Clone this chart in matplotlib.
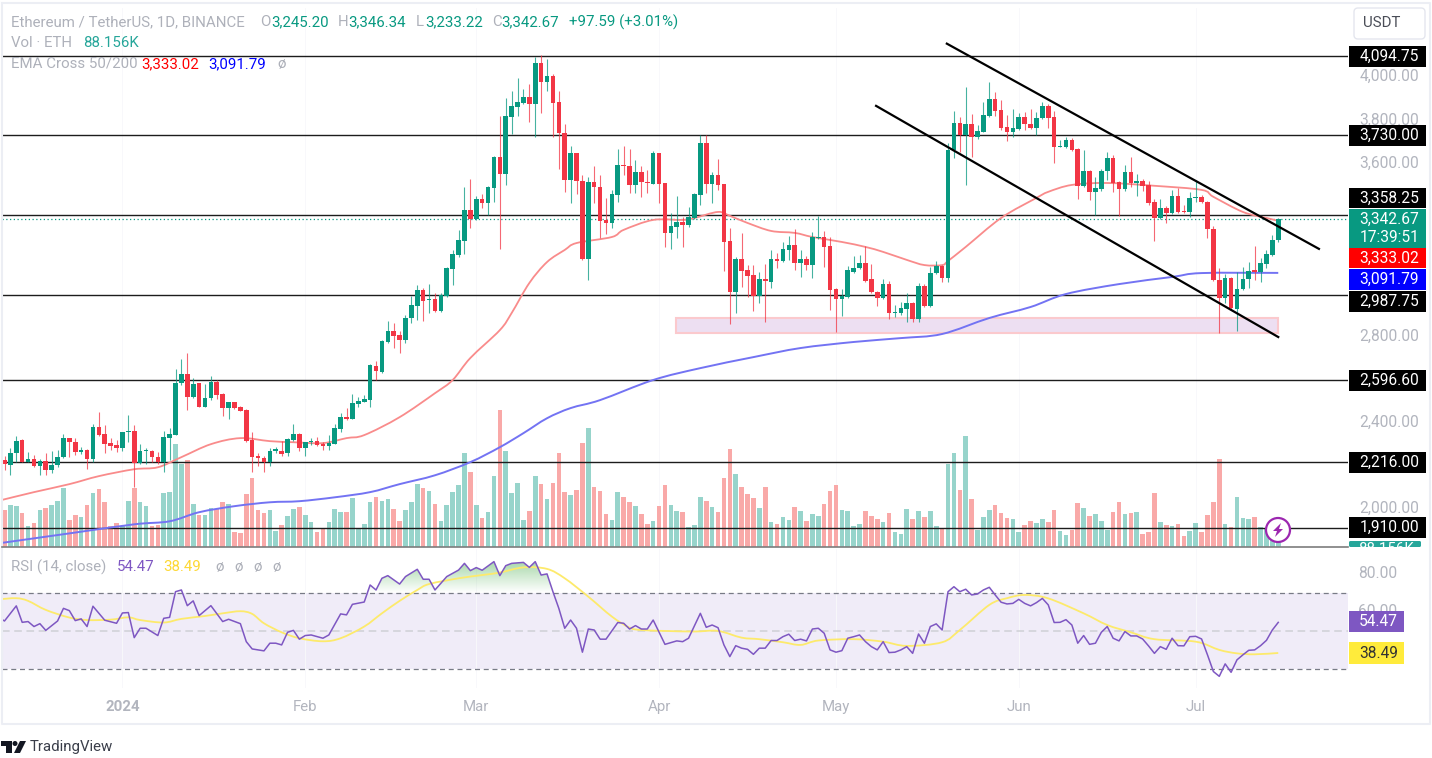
"""ETH/USDT daily chart with EMA cross, volume and RSI panes"""

import numpy as np
import matplotlib
matplotlib.use('Agg')
import matplotlib.pyplot as plt
from matplotlib.patches import Rectangle, Circle, Polygon, FancyBboxPatch, PathPatch
from matplotlib.path import Path

plt.rcParams['font.family'] = ['Roboto', 'DejaVu Sans']

# candles, one per day from 12 Dec 2023
opens = [2216,2193,2250,2309,2207,2221,2188,2211,2170,2193,
         2230,2318,2299,2253,2262,2221,2369,2336,2295,2285,
         2271,2346,2350,2202,2258,2258,2230,2207,2318,2332,
         2573,2614,2508,2573,2461,2503,2577,2522,2457,2485,
         2461,2448,2309,2234,2225,2207,2258,2258,2248,2309,
         2336,2271,2299,2304,2290,2281,2290,2360,2415,2406,
         2475,2485,2494,2651,2624,2763,2814,2795,2772,2874,
         2929,3004,2959,2962,2906,2976,3101,3166,3231,3374,
         3333,3425,3407,3476,3620,3541,3805,3852,3870,3898,
         3866,4056,3968,3995,3875,3731,3513,3638,3509,3147,
         3504,3481,3328,3314,3444,3583,3578,3490,3550,3504,
         3495,3638,3499,3268,3296,3319,3305,3337,3444,3685,
         3495,3537,3495,3231,2994,3147,3096,3073,2976,3055,
         3041,3147,3138,3189,3212,3129,3147,3119,3245,3249,
         3207,3008,2962,2971,3087,3106,3129,3055,2994,2967,
         3031,2897,2897,2916,2943,2869,3022,2929,3082,3115,
         3059,3652,3778,3722,3773,3713,3736,3810,3889,3838,
         3759,3736,3750,3805,3773,3754,3801,3856,3805,3666,
         3666,3699,3657,3486,3555,3458,3472,3555,3615,3504,
         3472,3550,3499,3509,3490,3411,3337,3384,3360,3439,
         3370,3365,3430,3435,3411,3286,3050,2967,3059,2916,
         3008,3055,3096,3087,3124,3166,3245.20]
highs = [2234,2271,2327,2313,2253,2239,2221,2248,2258,2262,
         2336,2318,2318,2276,2267,2383,2438,2378,2318,2309,
         2346,2424,2378,2290,2271,2262,2253,2350,2364,2638,
         2684,2712,2596,2573,2568,2605,2587,2526,2485,2485,
         2466,2452,2346,2248,2234,2271,2276,2304,2318,2383,
         2341,2299,2318,2322,2299,2332,2383,2434,2457,2522,
         2508,2517,2661,2675,2772,2860,2851,2814,2888,2976,
         3027,3013,3031,2990,2990,3110,3189,3282,3481,3518,
         3439,3448,3486,3625,3810,3893,3926,3986,3935,3958,
         4083,4093,4074,4005,3926,3773,3671,3638,3537,3527,
         3578,3537,3430,3467,3657,3671,3657,3606,3578,3560,
         3648,3638,3499,3360,3439,3342,3388,3453,3722,3722,
         3550,3611,3495,3291,3157,3268,3119,3119,3087,3124,
         3189,3175,3226,3254,3286,3189,3161,3272,3347,3277,
         3249,3013,3008,3115,3161,3166,3207,3124,2999,3055,
         3045,2934,2948,2990,2948,3036,3031,3110,3138,3119,
         3685,3833,3805,3944,3819,3768,3875,3967,3921,3884,
         3815,3842,3824,3828,3842,3828,3875,3866,3833,3699,
         3713,3708,3662,3652,3560,3527,3564,3643,3629,3509,
         3583,3620,3541,3518,3509,3425,3425,3393,3467,3476,
         3397,3458,3513,3444,3416,3300,3106,3078,3064,3087,
         3110,3133,3207,3152,3189,3258,3346.34]
lows = [2170,2146,2207,2207,2207,2183,2146,2146,2156,2183,
        2225,2230,2239,2244,2174,2207,2327,2248,2262,2253,
        2258,2299,2091,2197,2197,2207,2197,2160,2216,2332,
        2563,2448,2503,2461,2461,2494,2498,2420,2406,2452,
        2443,2299,2160,2188,2160,2188,2248,2234,2234,2304,
        2258,2234,2285,2281,2262,2262,2290,2346,2401,2406,
        2461,2485,2461,2587,2619,2758,2735,2712,2758,2851,
        2865,2860,2897,2902,2902,2971,3027,3157,3170,3291,
        3328,3384,3351,3411,3194,3490,3726,3810,3866,3782,
        3713,3824,3926,3713,3564,3458,3407,3448,3143,3050,
        3407,3245,3263,3291,3411,3537,3453,3453,3435,3453,
        3495,3407,3203,3194,3245,3203,3296,3333,3398,3453,
        3407,3467,3092,2846,2897,3018,2971,2906,2943,2855,
        3013,3106,3133,3143,3096,3064,3096,3059,3240,3110,
        2911,2809,2883,2967,3082,3101,3041,2990,2929,2962,
        2869,2878,2888,2855,2855,2855,2925,2925,3078,3041,
        3041,3615,3643,3490,3620,3703,3736,3805,3810,3745,
        3694,3713,3745,3745,3750,3722,3796,3754,3592,3666,
        3662,3648,3425,3481,3421,3351,3462,3513,3458,3347,
        3462,3481,3439,3462,3397,3231,3333,3314,3356,3360,
        3360,3342,3411,3407,3245,3045,2804,2943,2916,2814,
        3004,3013,3050,3041,3106,3161,3233.22]
closes = [2197,2250,2305,2207,2221,2188,2213,2170,2193,2230,
          2318,2299,2253,2262,2221,2369,2332,2290,2281,2271,
          2346,2350,2202,2258,2262,2230,2207,2322,2336,2573,
          2614,2508,2568,2461,2503,2577,2517,2457,2485,2457,
          2443,2304,2230,2225,2207,2258,2267,2244,2313,2336,
          2271,2299,2304,2285,2281,2295,2364,2415,2406,2480,
          2489,2498,2656,2628,2767,2814,2790,2772,2874,2934,
          3004,2953,2962,2906,2980,3106,3170,3235,3374,3333,
          3425,3407,3481,3620,3541,3810,3856,3875,3898,3866,
          4056,3968,3995,3870,3731,3513,3638,3509,3147,3504,
          3481,3323,3314,3448,3583,3578,3490,3550,3504,3499,
          3638,3495,3268,3300,3319,3305,3342,3448,3685,3495,
          3537,3490,3226,2994,3147,3092,3069,2976,3055,3045,
          3147,3138,3194,3212,3129,3147,3119,3249,3249,3203,
          3004,2962,2976,3096,3106,3129,3045,2994,2967,3031,
          2897,2902,2920,2943,2869,3022,2929,3082,3115,3059,
          3652,3778,3722,3773,3713,3740,3815,3889,3833,3754,
          3736,3754,3805,3773,3754,3801,3856,3801,3666,3671,
          3699,3652,3486,3555,3458,3476,3555,3615,3499,3472,
          3550,3499,3509,3486,3407,3337,3384,3360,3439,3365,
          3365,3430,3435,3411,3286,3050,2967,3059,2920,3008,
          3055,3092,3087,3129,3170,3235,3342.67]

# volume in thousands of ETH
volumes = [592,672,656,538,336,378,592,624,672,736,
           938,432,512,474,672,864,928,725,336,378,
           336,736,938,720,656,336,352,858,880,1642,
           1322,1391,688,512,512,618,602,720,688,235,
           219,848,1109,592,538,592,251,352,496,608,
           640,512,400,235,304,400,608,560,560,784,
           304,368,720,800,736,768,608,416,592,720,
           1008,944,896,688,416,672,880,992,1498,1205,
           672,464,560,1141,2191,1535,869,1029,432,576,
           1141,1007,768,1029,1498,879,831,911,1658,1897,
           959,895,528,432,879,800,720,656,528,368,
           416,656,991,672,576,560,314,352,800,736,
           640,560,1109,1562,1173,959,847,784,624,959,
           394,362,480,432,640,576,416,528,496,688,
           895,991,592,576,336,368,576,496,448,400,
           544,240,208,608,448,576,480,576,336,288,
           1327,1498,911,1775,768,272,480,592,672,544,
           464,448,240,352,416,384,448,400,592,256,
           192,272,704,624,496,528,416,272,560,720,
           528,544,560,208,240,864,400,352,336,368,
           176,256,384,240,512,720,1407,368,320,800,
           464,448,480,325,300,112,88.156]

# moving averages at these candle numbers
ema50_days = [-1,5,11,16,22,26,30,35,40,45,49,54,58,61,67,73,76,79,84,86,89,92,95,97,
              103,105,110,115,117,121,123,126,130,134,137,142,146,149,153,156,159,160,
              163,169,175,177,181,187,195,203,205,210,214,216]
ema50 = [2028,2068,2105,2142,2174,2183,2230,2290,2318,2304,2299,2295,2318,2332,2415,2526,2587,2689,
         2818,2897,3036,3133,3189,3221,3249,3282,3328,3328,3337,3365,3347,3314,3277,3268,3249,3226,
         3203,3180,3143,3119,3119,3138,3203,3337,3430,3458,3490,3499,3486,3467,3435,3365,3337,3333.02]
ema200_days = [-1,11,22,28,33,39,45,50,56,62,67,73,79,84,88,92,96,101,110,118,127,135,144,
               152,159,167,174,180,189,198,203,216]
ema200 = [1831,1877,1919,1933,1975,2003,2021,2026,2044,2068,2105,2146,2207,2276,2341,2410,2457,2494,
          2587,2642,2693,2735,2763,2781,2800,2874,2925,2985,3031,3064,3082,3091.79]

rsi_days = [-1,0,2,3,4,5,6,7,9,10,11,12,13,14,15,17,19,20,21,22,23,24,26,27,28,29,30,31,32,33,35,37,38,
            40,41,42,44,45,46,47,48,49,50,51,52,54,55,57,58,59,61,62,63,64,65,67,68,70,71,72,73,75,77,
            78,79,80,81,83,84,85,86,88,89,90,91,92,93,94,95,96,97,98,99,100,101,102,104,105,106,107,
            108,109,110,112,114,115,116,118,119,120,
            121,122,123,124,125,126,127,128,129,130,131,132,133,134,135,136,137,138,139,140,141,142,143,
            144,145,146,147,148,149,150,151,152,153,154,155,156,157,158,159,160,161,162,163,164,165,166,
            167,168,169,170,171,172,173,174,175,176,177,178,179,180,181,182,183,184,185,186,187,188,189,
            190,191,192,193,194,195,196,197,198,199,200,201,202,203,204,205,206,207,208,209,210,211,212,
            213,214,215,216]
rsi = [57,55.2,63.1,54.5,54.9,52.3,53.8,50.3,55.2,61.8,60.6,55.4,56.3,52.3,62.9,55.6,54,59.4,59.6,46.5,
       51.4,51.4,47.6,56.6,57.1,70.5,71.4,63.2,65.7,58,63.2,54.9,56.1,53.8,44.4,40.6,39.6,43.6,43.6,42.7,
       49.3,50.3,45.7,47.6,47.9,46.2,47.9,58.9,58.4,63.9,65.1,74,71.4,77.5,78.9,74.5,78.4,82.2,77,77,71.4,
       78.4,81.8,85.3,81.5,83.1,81.7,86.2,78.9,84.1,85.3,85.8,83.2,86.2,79.2,79.8,70.5,61.8,51.4,55.7,51.4,
       38.9,51,50.5,45.7,45.7,54.4,54,51,52.8,51,51,55.7,43,44.8,44.4,46.2,59.2,51.9,53.1,
       51.7,42.7,36.6,42.3,41,40.4,37.8,41,41,45,45,47,48.3,45,45.7,44.8,51,51.4,48.8,40.1,38.9,39.7,46.2,
       47,47.9,44.4,41.8,40.1,44.4,38.7,38.9,40.1,41.8,38.3,48.4,43.6,52.3,53.7,50.5,70.5,73.1,70.5,71.8,
       68.8,69.3,71.4,72.8,68.8,65,64.1,64.4,66.5,64.4,63.1,64.8,67,63.6,54.4,54.5,55.9,53.1,43.6,47.6,43,
       43.6,49.3,52.3,46.2,44.8,49.7,47.4,47.4,45.8,42.2,38.3,41.8,40.4,46.2,42.3,42.2,47,47.2,45.8,37.5,
       28.8,26.3,32.8,28.4,34.9,37.5,39.9,40.1,42.3,45.1,50.5,54.47]
rsi_ma_days = [-1,2,4,7,11,14,18,21,23,27,30,34,37,40,42,44,47,50,54,57,61,64,67,70,72,77,81,84,88,92,95,
               99,103,106,108,112,117,121,125,128,132,135,138,144,149,153,159,162,167,170,173,177,183,
               187,191,195,202,206,209,212,216]
rsi_ma = [66.5,67.1,65.7,61,57,55.7,55.9,57.1,55.7,54.4,56.3,57.8,59.2,60.3,58.9,54,49.3,46.2,44.6,46.2,
          52.3,59.2,65.7,71.4,74.5,77.5,79.2,80.5,83.2,82.4,77.5,67.9,57.5,51.7,50.5,50,49.7,50,46.5,45.7,
          44.1,42.7,45,45.7,44.4,42.2,44.1,50.5,63.6,67.1,68.8,67,59.2,53.1,49.3,45.7,44.4,40.1,38.3,37.8,38.49]

# horizontal levels and the price scale
levels = [4094.75, 3730.00, 3358.25, 2987.75, 2596.60, 2216.00, 1910.00]
price_ticks = [4000, 3800, 3600, 2800, 2400, 2000]
rsi_ticks = [80, 60]
month_days = [20, 51, 80, 111, 141, 172, 202]
month_labels = ['2024', 'Feb', 'Mar', 'Apr', 'May', 'Jun', 'Jul']

# drawn objects: channel and demand zone
upper_channel_days, upper_channel = [159.8, 222.9], [4153, 3203]
lower_channel_days, lower_channel = [147.8, 216.0], [3865, 2795]
zone_days, zone_prices = [113.9, 216.0], [2813, 2883]

# my price readings came out about 9 low against the level lines, the last
# candle and the last EMA values are the printed ones so they stay as they are
READ_SHIFT = 9
for series in (opens, highs, lows, closes, ema50, ema200):
    series[:-1] = [v + READ_SHIFT for v in series[:-1]]

GREEN = '#089981'
RED = '#f23645'
VOL_GREEN = '#97d4cb'
VOL_RED = '#f9a9a8'
GREY = '#b2b5be'
W, H = 1432, 758


def pane(left, top, right, bottom, **kw):
    return plt.gcf().add_axes([left / W, 1 - bottom / H, (right - left) / W, (bottom - top) / H], **kw)


def xlim_days(x_px):
    return (x_px - 4.5) / 5.897


def smooth_line(axes, xs, ys, colour, lw, zorder):
    # Catmull-Rom curve through the read points, the chart lines have no corners
    pts = np.column_stack([xs, ys]).astype(float)
    verts = [pts[0]]
    codes = [Path.MOVETO]
    for i in range(len(pts) - 1):
        before = pts[max(i - 1, 0)]
        after = pts[min(i + 2, len(pts) - 1)]
        verts += [pts[i] + (pts[i + 1] - before) / 6, pts[i + 1] - (after - pts[i]) / 6, pts[i + 1]]
        codes += [Path.CURVE4] * 3
    axes.add_patch(PathPatch(Path(verts, codes), facecolor='none', edgecolor=colour, lw=lw, zorder=zorder))


fig = plt.figure(figsize=(W / 100, H / 100), dpi=100, facecolor='white')
days = np.arange(len(closes))
up = np.array(closes) >= np.array(opens)

# volume sits underneath the price pane, 16K per pixel
ax_vol = pane(2, 8, 1348, 547)
ax_vol.bar(days, volumes, width=0.78, color=[VOL_GREEN if u else VOL_RED for u in up])
ax_vol.set_xlim(xlim_days(2), xlim_days(1348))
ax_vol.set_ylim(0, 539 * 16)
ax_vol.axis('off')

# price pane
ax = pane(2, 8, 1348, 547, zorder=2)
ax.patch.set_alpha(0)
ax.set_xlim(xlim_days(2), xlim_days(1348))
ax.set_ylim(1823, 4318)
ax.axis('off')

for m in month_days:
    ax_vol.axvline(m, color='#f8f8fb', lw=0.7, zorder=0)

ax.add_patch(Rectangle((zone_days[0], zone_prices[0]), zone_days[1] - zone_days[0], zone_prices[1] - zone_prices[0],
                       facecolor='#eddff2', edgecolor='#fbc9cd', lw=1.5, zorder=1))
for lev in levels:
    ax.axhline(lev, color='#1c1c1c', lw=1.0, zorder=1.5)
ax.axhline(closes[-1], color=GREEN, lw=0.9, ls=(0, (1, 2)), zorder=1.6)

smooth_line(ax, ema50_days, ema50, '#f98b8b', 1.3, 2)
smooth_line(ax, ema200_days, ema200, '#7373f3', 1.4, 2)

# candles
for i in days:
    c = GREEN if up[i] else RED
    ax.plot([i, i], [lows[i], highs[i]], color=c, lw=0.8, alpha=0.75, zorder=3, solid_capstyle='butt')
    bottom = min(opens[i], closes[i])
    height = max(abs(closes[i] - opens[i]), 5)
    ax.add_patch(Rectangle((i - 0.39, bottom), 0.78, height, facecolor=c, edgecolor='none', zorder=3.1))

ax.plot(upper_channel_days, upper_channel, color='black', lw=1.6, zorder=4, clip_on=False)
ax.plot(lower_channel_days, lower_channel, color='black', lw=1.6, zorder=4, clip_on=False)

# RSI pane
ax_rsi = pane(2, 549, 1348, 688)
ax_rsi.axhspan(30, 70, color='#f0ecf8', lw=0, zorder=0)
for m in month_days:
    ax_rsi.axvline(m, color='#f8f8fb', lw=0.7, zorder=0.5)
ax_rsi.axhline(70, color='#787b86', lw=0.9, ls=(0, (4, 3)), zorder=1)
ax_rsi.axhline(30, color='#787b86', lw=0.9, ls=(0, (4, 3)), zorder=1)
ax_rsi.axhline(50, color='#cfd0d6', lw=1.1, ls=(0, (5, 3)), zorder=1)
ax_rsi.set_xlim(xlim_days(2), xlim_days(1348))
ax_rsi.set_ylim(20.2, 92.8)

# green glow where RSI runs above 70
over = ax_rsi.fill_between(rsi_days, rsi, 70, where=np.array(rsi) > 70, interpolate=True, color='none')
clip = PathPatch(Path.make_compound_path(*over.get_paths()), transform=ax_rsi.transData, fc='none', ec='none')
ax_rsi.add_patch(clip)
shade = np.zeros((64, 2, 4))
shade[..., :3] = matplotlib.colors.to_rgb('#4caf50')
shade[..., 3] = np.linspace(0.5, 0.0, 64)[:, None]
glow = ax_rsi.imshow(shade, extent=(0, 216, 70, 87), aspect='auto', zorder=0.8, interpolation='bilinear')
glow.set_clip_path(clip)
ax_rsi.set_xlim(xlim_days(2), xlim_days(1348))
ax_rsi.set_ylim(20.2, 92.8)

smooth_line(ax_rsi, rsi_ma_days, rsi_ma, '#fdea6b', 1.3, 2)
ax_rsi.plot(rsi_days, rsi, color='#7e57c2', lw=1.1, zorder=3)
ax_rsi.axis('off')

# overlay in picture pixels for the TradingView furniture
ov = fig.add_axes([0, 0, 1, 1], zorder=5)
ov.set_xlim(0, W)
ov.set_ylim(H, 0)
ov.axis('off')
ov.patch.set_alpha(0)


def y_of(axes, value):
    return H - axes.transData.transform((0, value))[1]


def x_of(day):
    return ax.transData.transform((day, 0))[0]


FS = 10.8
ov.plot([2, 1430, 1430, 2, 2], [3, 3, 724, 724, 3], color='#eceef4', lw=1.5, zorder=0)
ov.plot([2, 1348], [547, 547], color='#7d7d7d', lw=1.2, zorder=1)

# price scale ticks, boxes go over them
for t in price_ticks:
    ov.text(1419, y_of(ax, t), f'{t:,.2f}', color=GREY, fontsize=FS + 0.4, ha='right', va='center', zorder=1)
for t in rsi_ticks:
    ov.text(1397, y_of(ax_rsi, t), f'{t:.2f}', color=GREY, fontsize=FS + 0.4, ha='right', va='center', zorder=1)


def tag(top, bottom, colour, text, right=1426, left=1349, text_colour='white'):
    box = Rectangle((left, top), right - left, bottom - top, facecolor=colour, edgecolor='none', zorder=2)
    ov.add_patch(box)
    ov.text((left + right) / 2 + 2, (top + bottom) / 2, text, color=text_colour, fontsize=FS + 0.4,
            ha='center', va='center', zorder=3, linespacing=1.3)


level_boxes = [(46, 67), (125, 146), (188, 208), (291, 312), (370, 391), (452, 473), (517, 538)]
for lev, (top, bottom) in zip(levels, level_boxes):
    tag(top, bottom, 'black', f'{lev:,.2f}')
tag(209, 248, '#089981', f'{closes[-1]:,.2f}\n17:39:51')
tag(248, 268, '#ff0000', '3,333.02')
tag(269, 290, '#0000ff', '3,091.79')
tag(611, 632, '#7e57c2', f'{rsi[-1]:.2f}', right=1404)
tag(642, 664, '#ffeb3b', f'{rsi_ma[-1]:.2f}', right=1404, text_colour='#333333')

# volume tag is cut off by the pane edge
ov.add_patch(FancyBboxPatch((1349, 541), 72, 6, boxstyle='round,pad=0,rounding_size=1.5',
                            facecolor='#26a69a', edgecolor='none', zorder=2))
vol_text = ov.text(1386, 549, '88.156K', color='white', fontsize=FS, ha='center', va='center', zorder=3)
vol_text.set_clip_path(Rectangle((1349, 539), 72, 8, transform=ov.transData))

# currency button
ov.add_patch(FancyBboxPatch((1354, 8), 71, 31, boxstyle='round,pad=0,rounding_size=4',
                            facecolor='white', edgecolor='#e4e6ee', lw=1, zorder=2))
ov.text(1382, 23, 'USDT', color='#4a4d57', fontsize=FS, ha='center', va='center', zorder=3)

# header legend
LEGEND_GREY = '#aeb1ba'
row1 = [(11, 'Ethereum / TetherUS, 1D, BINANCE', LEGEND_GREY), (260, 'O', LEGEND_GREY), (271, '3,245.20', GREEN),
        (338, 'H', LEGEND_GREY), (348, '3,346.34', GREEN), (416, 'L', LEGEND_GREY), (425, '3,233.22', GREEN),
        (492, 'C', LEGEND_GREY), (501, '3,342.67', GREEN), (569, '+97.59 (+3.01%)', GREEN)]
for x, s, c in row1:
    ov.text(x, 22, s, color=c, fontsize=FS, va='center')
ov.text(11, 43, 'Vol · ETH', color=LEGEND_GREY, fontsize=FS, va='center')
ov.text(83, 43, '88.156K', color='#26a69a', fontsize=FS, va='center')
row3 = [(11, 'EMA Cross 50/200', LEGEND_GREY), (141, '3,333.02', '#ff0000'), (208, '3,091.79', '#0000ff'),
        (277, 'ø', LEGEND_GREY)]
for x, s, c in row3:
    ov.text(x, 64, s, color=c, fontsize=FS, va='center')
rsi_row = [(11, 'RSI (14, close)', LEGEND_GREY), (117, '54.47', '#7e57c2'), (163, '38.49', '#fdd835'),
           (215, 'ø', LEGEND_GREY), (234, 'ø', LEGEND_GREY), (253, 'ø', LEGEND_GREY), (272, 'ø', LEGEND_GREY)]
for x, s, c in rsi_row:
    ov.text(x, 567, s, color=c, fontsize=FS, va='center')

# month labels
for m, lab in zip(month_days, month_labels):
    ov.text(x_of(m), 707, lab, color=GREY, fontsize=FS, ha='center', va='center',
            fontweight='bold' if lab == '2024' else 'normal')

# lightning button
ov.add_patch(Circle((1278, 530), 12, facecolor='white', edgecolor='#9c27b0', lw=1.6, zorder=4))
ov.add_patch(Polygon([(1281, 523), (1273, 531), (1277, 531), (1275, 537), (1283, 529), (1279, 529)],
                     closed=True, facecolor='#9c27b0', edgecolor='none', zorder=5))

# TradingView logo and name
ov.add_patch(Rectangle((1, 741), 10.5, 5, facecolor='#131722', edgecolor='none'))
ov.add_patch(Rectangle((6, 741), 5.5, 12, facecolor='#131722', edgecolor='none'))
ov.add_patch(Circle((15, 743.5), 2.5, facecolor='#131722', edgecolor='none'))
ov.add_patch(Polygon([(20, 741), (26, 741), (20, 753), (14, 753)], closed=True, facecolor='#131722', edgecolor='none'))
ov.text(30, 747, 'TradingView', color='#3a3e4a', fontsize=10.8, va='center')

fig.savefig('out.png', dpi=100, facecolor='white')
